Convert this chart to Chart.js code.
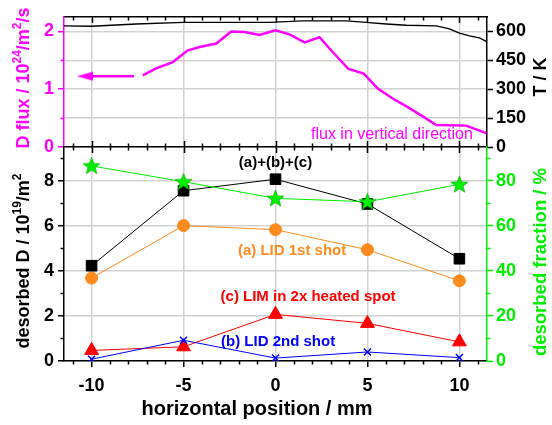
<!DOCTYPE html>
<html><head><meta charset="utf-8">
<script src="https://cdn.jsdelivr.net/npm/chart.js@4.4.1/dist/chart.umd.min.js"></script>
<style>
html,body{margin:0;padding:0;background:#fff;}
#wrap{position:relative;width:552px;height:425px;background:#fff;}
canvas{position:absolute;left:0;top:0;}
</style></head><body>
<div id="wrap"><canvas id="cTop" width="552" height="425"></canvas><canvas id="cBot" width="552" height="425"></canvas></div>
<script>
// ---------------- data ----------------
const positions   = [-10, -5, 0, 5, 10];
const sumABC      = [4.23, 7.56, 8.07, 6.97, 4.54];   // (a)+(b)+(c)
const lid1st      = [3.68, 6.01, 5.83, 4.94, 3.56];   // (a) LID 1st shot
const lim2x       = [0.47, 0.63, 2.07, 1.67, 0.85];   // (c) LIM in 2x heated spot
const lid2nd      = [0.08, 0.92, 0.13, 0.40, 0.15];   // (b) LID 2nd shot
const desFraction = [86.6, 79.6, 72.2, 70.7, 78.4];   // desorbed fraction / %

const fluxX = [-7.22,-6.49,-5.58,-4.79,-4.13,-3.22,-2.41,-1.69,-0.87,0,0.76,1.58,2.39,3.12,3.97,4.80,5.56,6.37,7.19,8.01,8.74,10.37,11.46];
const fluxY = [1.24,1.36,1.47,1.67,1.73,1.79,2.00,1.99,1.94,2.02,1.95,1.81,1.90,1.64,1.35,1.27,1.01,0.84,0.69,0.53,0.38,0.37,0.24];
const tempX = [-11.5,-10,-7.57,-5,-2.5,-0.33,1.47,3.84,4.93,6.02,7.11,8.74,9.46,10,10.55,11.09,11.46];
const tempY = [629,627,639,647,647,647,655,655,647,639,632,629,613,591,577,567,549];
const arrowX = [-7.7, -10.37];
const arrowY = [1.225, 1.225];

const fluxTickLabels = [0, 1, 2];
const labelsBottom = ['(a)+(b)+(c)', '(a) LID 1st shot', '(c) LIM in 2x heated spot', '(b) LID 2nd shot'];
const labelTop = 'flux in vertical direction';

// ---------------- styling ----------------
const FONT = '"Liberation Sans", Arial, Helvetica, sans-serif';
const MAG = '#ff00ff', GREEN = '#00ee00', ORANGE = '#ff8a1e', RED = '#ff0000', BLUE = '#0000ff', BLACK = '#000000';
const GRID = '#d2d2d2';
const tickFont = {family: FONT, size: 18, weight: 'bold'};
const xMin = -11.5, xMax = 11.5;

function pts(xs, ys){ return xs.map((x,i)=>({x:x, y:ys[i]})); }

// star marker
const star = document.createElement('canvas'); star.width = 19; star.height = 19;
(function(){ const c = star.getContext('2d'); c.beginPath();
  for (let i=0;i<10;i++){ const r = i%2===0 ? 9 : 3.8; const a = -Math.PI/2 + i*Math.PI/5;
    const px = 9.5 + r*Math.cos(a), py = 10 + r*Math.sin(a); i===0 ? c.moveTo(px,py) : c.lineTo(px,py); }
  c.closePath(); c.fillStyle = GREEN; c.fill(); c.lineWidth = 0.6; c.strokeStyle = '#00a000'; c.stroke(); })();
// arrow head
const head = document.createElement('canvas'); head.width = 16; head.height = 10;
(function(){ const c = head.getContext('2d'); c.beginPath(); c.moveTo(0,5); c.lineTo(16,0.5); c.lineTo(16,9.5); c.closePath(); c.fillStyle = MAG; c.fill(); })();

function richText(ctx, runs, cx, cy, rot){
  ctx.save(); ctx.translate(cx, cy); ctx.rotate(rot);
  let total = 0;
  runs.forEach(r => { ctx.font = r.font; r.w = ctx.measureText(r.t).width; total += r.w; });
  let x = -total/2; ctx.textBaseline = 'middle'; ctx.textAlign = 'left';
  runs.forEach(r => { ctx.font = r.font; ctx.fillStyle = r.color; ctx.fillText(r.t, x, r.dy || 0); x += r.w; });
  ctx.restore();
}
const B18 = 'bold 18px ' + FONT, B12 = 'bold 12px ' + FONT;

function tickMarks(ctx, ca, scale, vals, where, len, color){
  ctx.save(); ctx.strokeStyle = color; ctx.lineWidth = 1.5; ctx.beginPath();
  vals.forEach(v => {
    const p = Math.round(scale.getPixelForValue(v)) + 0.5;
    if (where === 'left')   { ctx.moveTo(ca.left, p); ctx.lineTo(ca.left - len, p); }
    if (where === 'right')  { ctx.moveTo(ca.right, p); ctx.lineTo(ca.right + len, p); }
    if (where === 'bottom') { ctx.moveTo(p, ca.bottom); ctx.lineTo(p, ca.bottom + len); }
    if (where === 'topIn')  { ctx.moveTo(p, ca.top); ctx.lineTo(p, ca.top + len); }
    if (where === 'botIn')  { ctx.moveTo(p, ca.bottom); ctx.lineTo(p, ca.bottom - len); }
  });
  ctx.stroke(); ctx.restore();
}
const xMajor = [-10,-5,0,5,10];
const xMinor = []; for (let v=-11; v<=11; v++) if (v%5!==0) xMinor.push(v);

// ---------------- top chart ----------------
const topDecor = {
  id: 'topDecor',
  afterDraw(chart){
    const ctx = chart.ctx, ca = chart.chartArea, sx = chart.scales.x, sy = chart.scales.yFlux;
    tickMarks(ctx, ca, sx, xMajor, 'topIn', 6, BLACK);
    tickMarks(ctx, ca, sx, xMinor, 'topIn', 3.5, BLACK);
    tickMarks(ctx, ca, sx, xMajor, 'botIn', 6, BLACK);
    tickMarks(ctx, ca, sx, xMinor, 'botIn', 3.5, BLACK);
    tickMarks(ctx, ca, sy, [0.5, 1.5], 'left', 3.5, MAG);
    ctx.save(); ctx.font = '16px ' + FONT; ctx.fillStyle = MAG; ctx.textAlign = 'center'; ctx.textBaseline = 'middle';
    ctx.fillText(labelTop, sx.getPixelForValue(6.33), sy.getPixelForValue(0.21)); ctx.restore();
    richText(ctx, [{t:'D flux / 10',font:B18,color:MAG},{t:'24',font:B12,color:MAG,dy:-6},{t:'/m',font:B18,color:MAG},{t:'2',font:B12,color:MAG,dy:-6},{t:'/s',font:B18,color:MAG}], 24, 78, -Math.PI/2);
    richText(ctx, [{t:'T / K',font:B18,color:BLACK}], 541, 77, -Math.PI/2);
  }
};

new Chart(document.getElementById('cTop'), {
  type: 'line',
  data: { datasets: [
    {label:'arrow', data: pts(arrowX, arrowY), yAxisID:'yFlux', borderColor: MAG, backgroundColor: MAG, borderWidth: 2.5, pointRadius:[0,8], pointStyle: head, order: 0},
    {label:'flux', data: pts(fluxX, fluxY), yAxisID:'yFlux', borderColor: MAG, borderWidth: 2.5, pointRadius: 0, order: 1},
    {label:'T', data: pts(tempX, tempY), yAxisID:'yT', borderColor: BLACK, borderWidth: 1.4, pointRadius: 0, order: 2}
  ]},
  options: {
    responsive:false, animation:false, devicePixelRatio:1,
    layout:{padding:{top:17, bottom:278, left:0, right:0}},
    plugins:{legend:{display:false}, tooltip:{enabled:false}},
    scales:{
      x:{type:'linear', position:'bottom', min:xMin, max:xMax, ticks:{display:false, stepSize:5, includeBounds:false},
         grid:{color:GRID, lineWidth:1.5, drawTicks:false}, border:{display:false}, afterFit:s=>{s.height=0;}},
      xTop:{type:'linear', position:'top', min:xMin, max:xMax, ticks:{display:false}, grid:{display:false, drawTicks:false},
         border:{display:true, color:BLACK, width:1.5}, afterFit:s=>{s.height=0;}},
      yFlux:{type:'linear', position:'left', min:0, max:2.25,
         ticks:{stepSize:0.5, includeBounds:false, color:MAG, font:tickFont, padding:4,
                callback:v => fluxTickLabels.includes(v) ? String(v) : ''},
         grid:{color:GRID, lineWidth:1.5, tickLength:6, tickWidth:1.5,
               tickColor:c => (c.tick && fluxTickLabels.includes(c.tick.value)) ? MAG : 'rgba(0,0,0,0)'},
         border:{color:MAG, width:1.5}, afterFit:s=>{s.width=64;}},
      yT:{type:'linear', position:'right', min:0, max:675,
         ticks:{stepSize:150, includeBounds:false, color:BLACK, font:tickFont, padding:3},
         grid:{drawOnChartArea:false, tickLength:6, tickWidth:1.5, tickColor:BLACK},
         border:{color:BLACK, width:1.5}, afterFit:s=>{s.width=65;}}
    }
  },
  plugins:[topDecor]
});

// ---------------- bottom chart ----------------
const botDecor = {
  id: 'botDecor',
  afterDraw(chart){
    const ctx = chart.ctx, ca = chart.chartArea, sx = chart.scales.x, sy = chart.scales.yD, sf = chart.scales.yFrac;
    tickMarks(ctx, ca, sx, xMajor, 'topIn', 6, BLACK);
    tickMarks(ctx, ca, sx, xMinor, 'topIn', 3.5, BLACK);
    tickMarks(ctx, ca, sx, xMinor, 'bottom', 3.5, BLACK);
    tickMarks(ctx, ca, sy, [1,3,5,7,9], 'left', 3.5, BLACK);
    tickMarks(ctx, ca, sf, [10,30,50,70,90], 'right', 3.5, GREEN);
    const ann = [
      {t:labelsBottom[0], x:0.0,  y:8.78, c:BLACK},
      {t:labelsBottom[1], x:0.9,  y:4.9,  c:ORANGE},
      {t:labelsBottom[2], x:1.77, y:2.84, c:RED},
      {t:labelsBottom[3], x:0.14, y:0.83, c:BLUE}
    ];
    ctx.save(); ctx.font = 'bold 15px ' + FONT; ctx.textAlign = 'center'; ctx.textBaseline = 'middle';
    ann.forEach(a => { ctx.fillStyle = a.c; ctx.fillText(a.t, sx.getPixelForValue(a.x), sy.getPixelForValue(a.y)); });
    ctx.restore();
    richText(ctx, [{t:'desorbed D / 10',font:B18,color:BLACK},{t:'19',font:B12,color:BLACK,dy:-6},{t:'/m',font:B18,color:BLACK},{t:'2',font:B12,color:BLACK,dy:-6}], 24, 261, -Math.PI/2);
    richText(ctx, [{t:'desorbed fraction / %',font:'bold 18.5px ' + FONT,color:GREEN}], 541, 262, -Math.PI/2);
    richText(ctx, [{t:'horizontal position / mm',font:'bold 20px ' + FONT,color:BLACK}], 257, 409, 0);
  }
};

new Chart(document.getElementById('cBot'), {
  type: 'line',
  data: { datasets: [
    {label:'fraction', data: pts(positions, desFraction), yAxisID:'yFrac', borderColor: GREEN, borderWidth: 1, pointStyle: star, pointRadius: 8, order: 0},
    {label:'sum', data: pts(positions, sumABC), yAxisID:'yD', borderColor: BLACK, backgroundColor: BLACK, borderWidth: 1, pointStyle:'rect', pointRadius: 7.5, pointBorderWidth: 1, order: 1},
    {label:'lid1', data: pts(positions, lid1st), yAxisID:'yD', borderColor: ORANGE, backgroundColor: ORANGE, borderWidth: 1, pointStyle:'circle', pointRadius: 6, pointBorderWidth: 1, order: 2},
    {label:'lid2', data: pts(positions, lid2nd), yAxisID:'yD', borderColor: BLUE, backgroundColor: BLUE, borderWidth: 1, pointStyle:'crossRot', pointRadius: 5, pointBorderWidth: 1.5, order: 3},
    {label:'lim', data: pts(positions, lim2x), yAxisID:'yD', borderColor: RED, backgroundColor: RED, borderWidth: 1, pointStyle:'triangle', pointRadius: 8, pointBorderWidth: 1, order: 4}
  ]},
  options: {
    responsive:false, animation:false, devicePixelRatio:1,
    layout:{padding:{top:147, bottom:0, left:0, right:0}},
    plugins:{legend:{display:false}, tooltip:{enabled:false}},
    scales:{
      x:{type:'linear', position:'bottom', min:xMin, max:xMax,
         ticks:{stepSize:5, includeBounds:false, color:BLACK, font:tickFont, padding:8, maxRotation:0},
         grid:{color:GRID, lineWidth:1.5, tickLength:6, tickWidth:1.5, tickColor:BLACK},
         border:{color:BLACK, width:1.5}, afterFit:s=>{s.height=64;}},
      xTop:{type:'linear', position:'top', min:xMin, max:xMax, ticks:{display:false}, grid:{display:false, drawTicks:false},
         border:{display:true, color:BLACK, width:1.5}, afterFit:s=>{s.height=0;}},
      yD:{type:'linear', position:'left', min:0, max:9.5,
         ticks:{stepSize:2, includeBounds:false, color:BLACK, font:tickFont, padding:4},
         grid:{color:GRID, lineWidth:1.5, tickLength:6, tickWidth:1.5, tickColor:BLACK},
         border:{color:BLACK, width:1.5}, afterFit:s=>{s.width=64;}},
      yFrac:{type:'linear', position:'right', min:0, max:95,
         ticks:{stepSize:20, includeBounds:false, color:GREEN, font:tickFont, padding:3},
         grid:{drawOnChartArea:false, tickLength:6, tickWidth:1.5, tickColor:GREEN},
         border:{color:GREEN, width:1.5}, afterFit:s=>{s.width=65;}}
    }
  },
  plugins:[botDecor]
});
</script>
</body></html>
